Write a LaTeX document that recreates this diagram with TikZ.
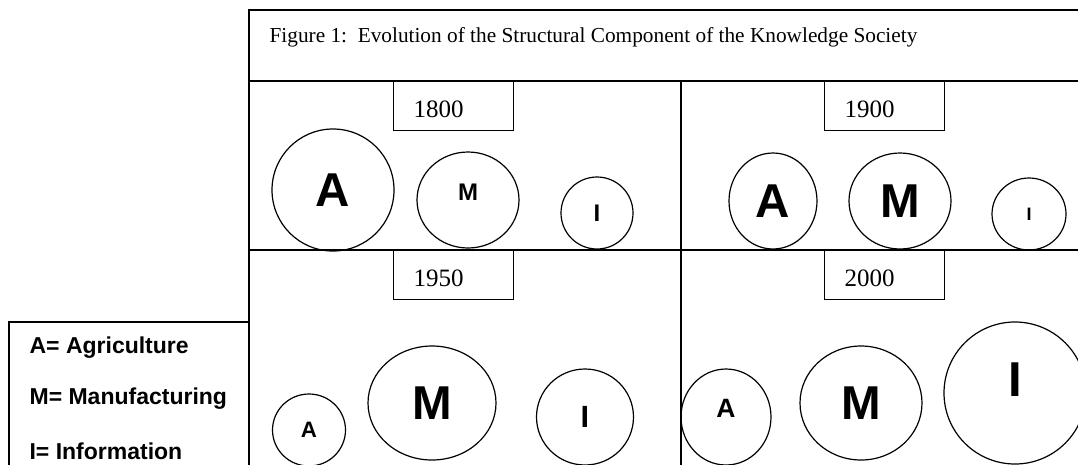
\documentclass[tikz,border=0pt]{standalone}
\usepackage{fontspec}
\setmainfont{Liberation Serif}
\setsansfont{Liberation Sans}
\usetikzlibrary{shapes.geometric}

\begin{document}
\begin{tikzpicture}[x=1pt, y=-1pt, line width=1.2pt,
  yearbox/.style={draw, anchor=north west, minimum width=120pt, minimum height=49pt,
    text width=80pt, align=left, inner xsep=20pt, inner ysep=0pt, text height=23pt,
    font=\fontsize{25}{28}\selectfont},
  sector/.style={draw, ellipse, inner sep=0pt,
    font=\sffamily\bfseries\fontsize{#1}{#1}\selectfont},
  legend/.style={anchor=base west, inner sep=0pt,
    font=\sffamily\bfseries\fontsize{23}{26}\selectfont}]
  \useasboundingbox (0,0) rectangle (1078,464);
  \clip (0,0) rectangle (1078,464);

  % outer frame, title strip and the four panels
  \draw (249,10) rectangle (1090,475);
  \draw (249,81) -- (1090,81);
  \draw (249,250) -- (1090,250);
  \draw (681,81) -- (681,475);

  % legend box
  \draw (9,322) rectangle (249,475);

  \node[anchor=base west, inner sep=0pt, font=\fontsize{21.3}{24}\selectfont] (title)
    at (269,42) {Figure 1:~~Evolution of the Structural Component of the Knowledge Society};

  % year tabs
  \node[yearbox] (y1800) at (393,81) {1800};
  \node[yearbox] (y1900) at (824,81) {1900};
  \node[yearbox] (y1950) at (393,250) {1950};
  \node[yearbox] (y2000) at (824,250) {2000};

  % 1800
  \node[sector=47.5, minimum width=122pt, minimum height=122pt] (a1800) at (333,190) {A};
  \node[sector=24, minimum width=102pt, minimum height=96pt, text depth=16pt] (m1800) at (468,200) {M};
  \node[sector=24, minimum width=72pt, minimum height=72pt] (i1800) at (597,213) {I};

  % 1900
  \node[sector=47.5, minimum width=88pt, minimum height=96pt] (a1900) at (773,201) {A};
  \node[sector=47.5, minimum width=102pt, minimum height=96pt] (m1900) at (900,201) {M};
  \node[sector=18, minimum width=74pt, minimum height=72pt] (i1900) at (1029,214) {I};

  % 1950
  \node[sector=22.3, minimum width=73pt, minimum height=72pt] (a1950) at (309,430) {A};
  \node[sector=47.5, minimum width=128pt, minimum height=114pt] (m1950) at (432,403) {M};
  \node[sector=30.7, minimum width=97pt, minimum height=96pt] (i1950) at (585,417) {I};

  % 2000
  \node[sector=26.5, minimum width=90pt, minimum height=96pt, text depth=18pt] (a2000) at (726,417) {A};
  \node[sector=47.5, minimum width=122pt, minimum height=114pt] (m2000) at (861,403) {M};
  \node[sector=49, minimum width=142pt, minimum height=142pt, text depth=26pt] (i2000) at (1015,393) {I};

  % legend entries
  \node[legend] (lega) at (29,353) {A= Agriculture};
  \node[legend] (legm) at (29,404) {M= Manufacturing};
  \node[legend] (legi) at (29,459) {I= Information};
\end{tikzpicture}
\end{document}
